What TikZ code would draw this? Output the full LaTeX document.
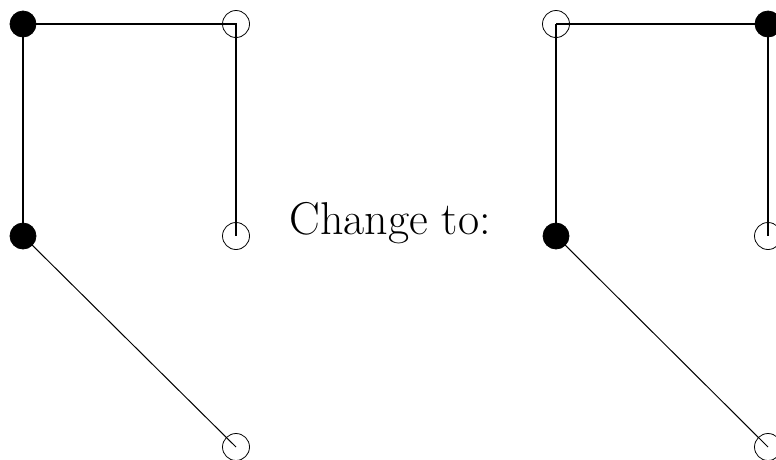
\documentclass[tikz,border=0pt]{standalone}
\begin{document}
\begin{tikzpicture}[x=1pt,y=-1pt,
  full/.style={circle,fill=black,draw=black,line width=0.8pt,minimum size=26pt,inner sep=0pt},
  hollow/.style={circle,draw=black,line width=0.8pt,minimum size=27pt,inner sep=0pt},
  edge/.style={line width=2pt},
  thinedge/.style={line width=1pt}]
\useasboundingbox (0,0) rectangle (776,459);
% left graph
\coordinate (a1) at (23,24);
\coordinate (a2) at (236,24);
\coordinate (a3) at (23,236);
\coordinate (a4) at (236,236);
\coordinate (a5) at (236,447);
\draw[edge] (a1) -- (a2) -- (a4);
\draw[edge] (a1) -- (a3);
\draw[thinedge] (a3) -- (a5);
\node[full] (n1) at (a1) {};
\node[hollow] (n2) at (a2) {};
\node[full] (n3) at (a3) {};
\node[hollow] (n4) at (a4) {};
\node[hollow] (n5) at (a5) {};
% text
\node[anchor=base,inner sep=0pt,font=\fontsize{46}{54}\selectfont] (t) at (390,234) {Change to:};
% right graph
\coordinate (b1) at (556,24);
\coordinate (b2) at (768,24);
\coordinate (b3) at (556,236);
\coordinate (b4) at (768,236);
\coordinate (b5) at (768,447);
\draw[edge] (b1) -- (b2) -- (b4);
\draw[edge] (b1) -- (b3);
\draw[thinedge] (b3) -- (b5);
\node[hollow] (m1) at (b1) {};
\node[full] (m2) at (b2) {};
\node[full] (m3) at (b3) {};
\node[hollow] (m4) at (b4) {};
\node[hollow] (m5) at (b5) {};
\end{tikzpicture}
\end{document}
